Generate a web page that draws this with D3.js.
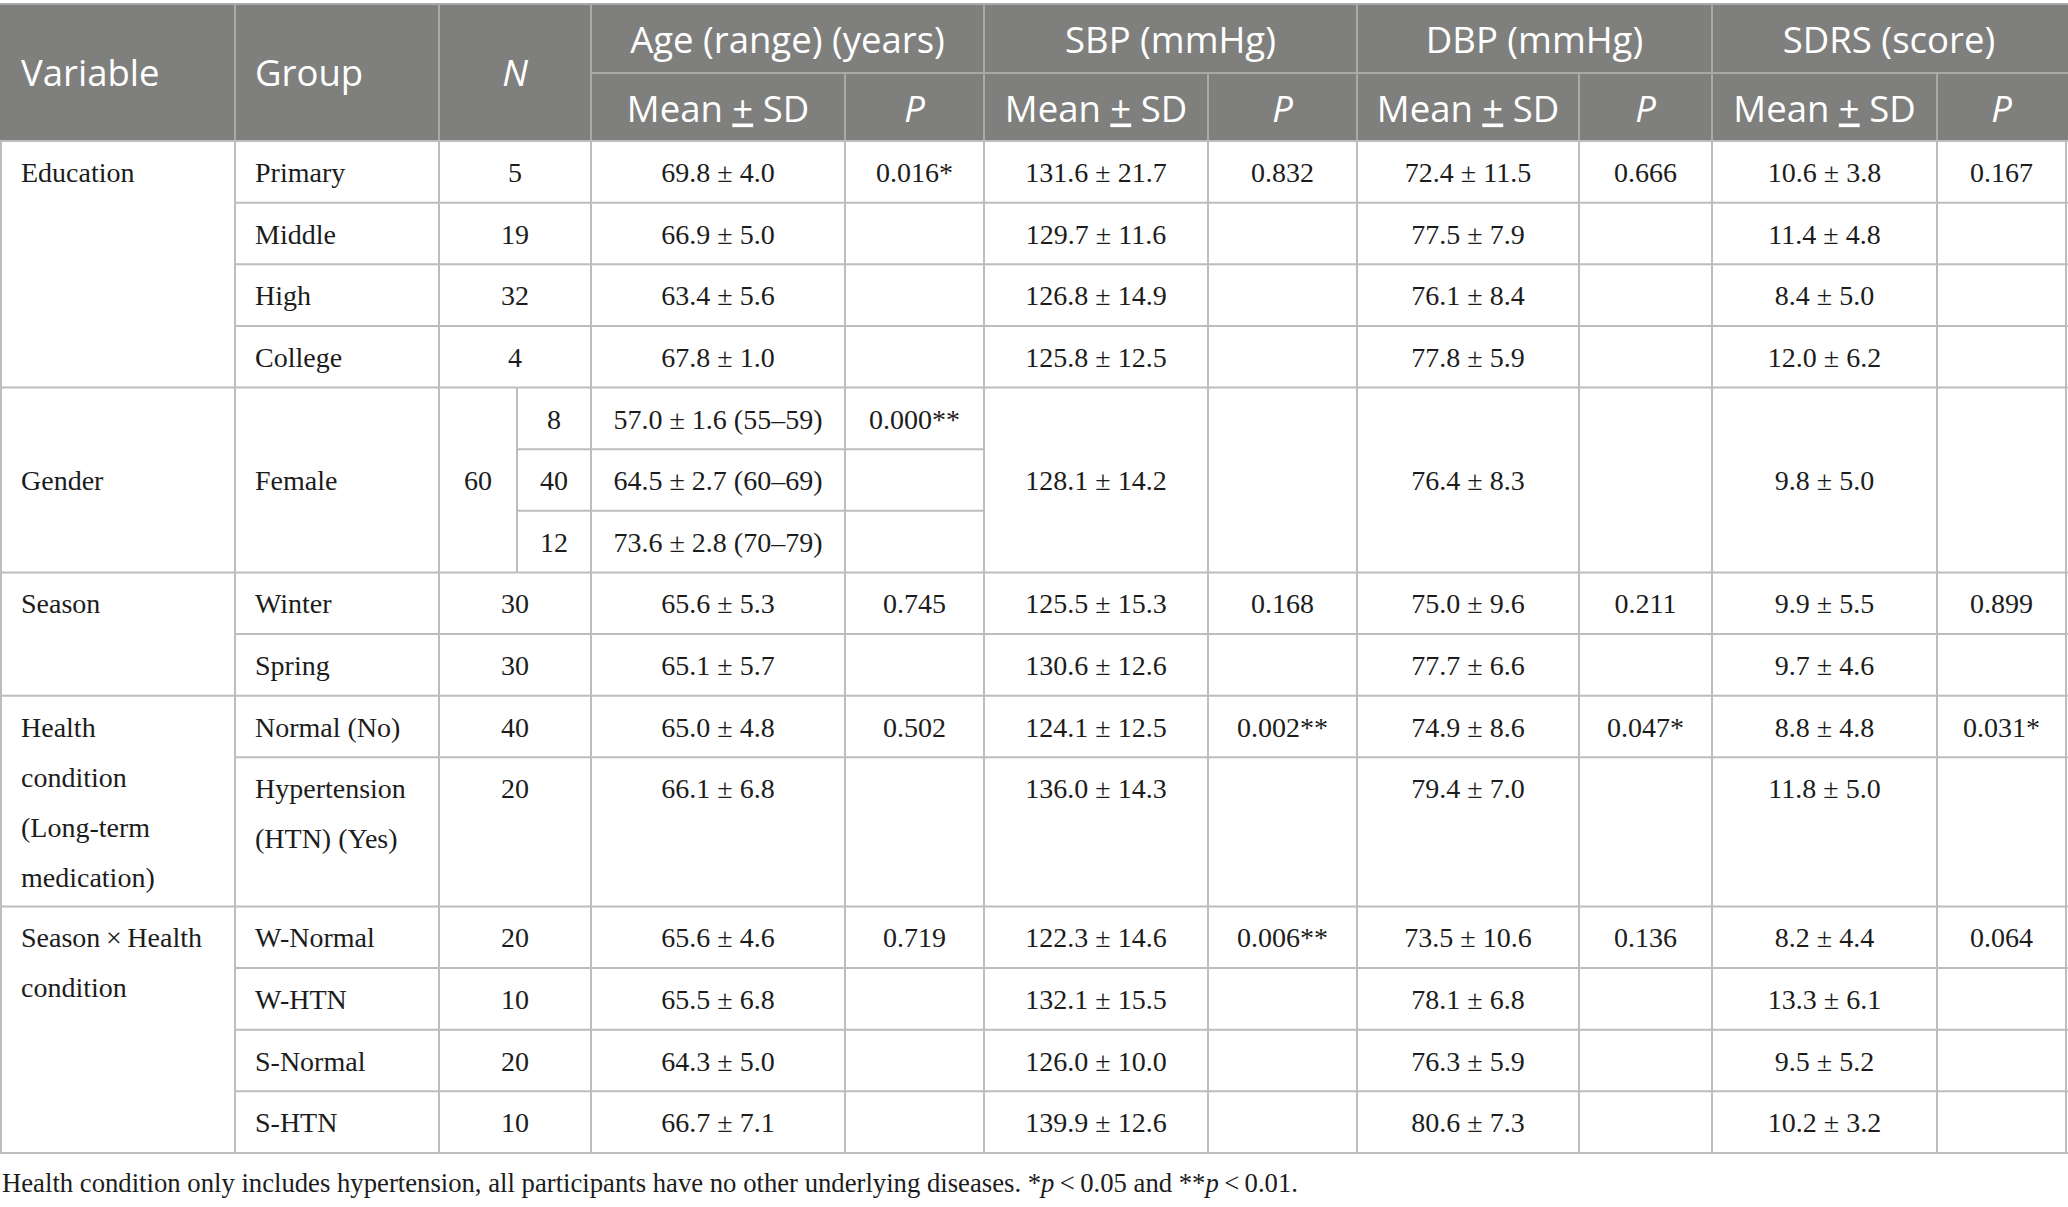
<!DOCTYPE html>
<html><head><meta charset="utf-8">
<script src="https://cdn.jsdelivr.net/npm/d3@7"></script>
<style>body{margin:0;background:#fff}svg{display:block}</style>
</head><body>
<svg id="chart" width="2068" height="1207"></svg>
<script>
// ---------------- DATA ----------------
const headerCols = ["Variable", "Group", "N"];
const headerGroups = ["Age (range) (years)", "SBP (mmHg)", "DBP (mmHg)", "SDRS (score)"];
const subHeaders = ["Mean ± SD", "P"];

const variables = ["Education", "Gender", "Season", "Health\ncondition\n(Long-term\nmedication)", "Season\u2009×\u2009Health\ncondition"];
const sectionSizes = [4, 1, 2, 2, 4]; // number of groups in each variable

const groups = ["Primary", "Middle", "High", "College", "Female", "Winter", "Spring",
  "Normal (No)", "Hypertension\n(HTN) (Yes)", "W-Normal", "W-HTN", "S-Normal", "S-HTN"];
const groupN = ["5", "19", "32", "4", "60", "30", "30", "40", "20", "20", "10", "20", "10"];
const genderAgeN = ["8", "40", "12"]; // sub-groups of Female by age range

// Age: one entry per displayed row (Female split into 3 age ranges)
const ageMeanSD = ["69.8 ± 4.0", "66.9 ± 5.0", "63.4 ± 5.6", "67.8 ± 1.0",
  "57.0 ± 1.6 (55–59)", "64.5 ± 2.7 (60–69)", "73.6 ± 2.8 (70–79)",
  "65.6 ± 5.3", "65.1 ± 5.7", "65.0 ± 4.8", "66.1 ± 6.8",
  "65.6 ± 4.6", "65.5 ± 6.8", "64.3 ± 5.0", "66.7 ± 7.1"];
const ageP = ["0.016*", "0.000**", "0.745", "0.502", "0.719"];

const sbpMeanSD = ["131.6 ± 21.7", "129.7 ± 11.6", "126.8 ± 14.9", "125.8 ± 12.5", "128.1 ± 14.2",
  "125.5 ± 15.3", "130.6 ± 12.6", "124.1 ± 12.5", "136.0 ± 14.3",
  "122.3 ± 14.6", "132.1 ± 15.5", "126.0 ± 10.0", "139.9 ± 12.6"];
const sbpP = ["0.832", "", "0.168", "0.002**", "0.006**"];

const dbpMeanSD = ["72.4 ± 11.5", "77.5 ± 7.9", "76.1 ± 8.4", "77.8 ± 5.9", "76.4 ± 8.3",
  "75.0 ± 9.6", "77.7 ± 6.6", "74.9 ± 8.6", "79.4 ± 7.0",
  "73.5 ± 10.6", "78.1 ± 6.8", "76.3 ± 5.9", "80.6 ± 7.3"];
const dbpP = ["0.666", "", "0.211", "0.047*", "0.136"];

const sdrsMeanSD = ["10.6 ± 3.8", "11.4 ± 4.8", "8.4 ± 5.0", "12.0 ± 6.2", "9.8 ± 5.0",
  "9.9 ± 5.5", "9.7 ± 4.6", "8.8 ± 4.8", "11.8 ± 5.0",
  "8.2 ± 4.4", "13.3 ± 6.1", "9.5 ± 5.2", "10.2 ± 3.2"];
const sdrsP = ["0.167", "", "0.899", "0.031*", "0.064"];

const footnoteParts = [
  ["Health condition only includes hypertension, all participants have no other underlying diseases. *", false],
  ["p", true], ["\u2009<\u20090.05 and **", false], ["p", true], ["\u2009<\u20090.01.", false]
];

// ---------------- LAYOUT ----------------
const svg = d3.select("#chart");
const colKeys = ["var", "grp", "n", "ageM", "ageP", "sbpM", "sbpP", "dbpM", "dbpP", "sdrsM", "sdrsP"];
const colEdges = [1, 235, 439, 591, 845, 984, 1208, 1357, 1579, 1712, 1937, 2066];
const nSplit = 517;
const xL = d3.scaleOrdinal().domain(colKeys).range(colEdges.slice(0, -1));
const xR = d3.scaleOrdinal().domain(colKeys).range(colEdges.slice(1));
const xC = k => (xL(k) + xR(k)) / 2;

const headTop = 4, headMid = 73, headBot = 141, bodyBot = 1153;
const lineGap = 50, firstLine = 41;
const sansFont = "'Open Sans', 'Noto Sans', sans-serif";
const serifFont = "'Liberation Serif', 'DejaVu Serif', serif";
const bodyColor = "#1c1c1c";
const gridColor = "#bdbdbd";
const headBg = "#7f807e";
const headLine = "#a9aaa8";

const groupSection = [];
sectionSizes.forEach((n, s) => { for (let i = 0; i < n; i++) groupSection.push(s); });
const groupSubRows = groups.map((g, i) => groupSection[i] === 1 ? genderAgeN.length : 1);
const groupUnits = groups.map((g, i) => i === 8 ? 2.42 : groupSubRows[i]);
const groupStart = [];
let acc = 0;
groupUnits.forEach(u => { groupStart.push(acc); acc += u; });
const totalUnits = acc;
const y = d3.scaleLinear().domain([0, totalUnits]).range([headBot, bodyBot]);

const sectionFirst = [];
{ let c = 0; sectionSizes.forEach(n => { sectionFirst.push(c); c += n; }); }

// ---------------- HEADER ----------------
const head = svg.append("g");
head.append("rect").attr("x", 0).attr("y", headTop).attr("width", 2068).attr("height", headBot - headTop).attr("fill", headBg);
head.append("line").attr("x1", 0).attr("x2", 2068).attr("y1", headTop).attr("y2", headTop).attr("stroke", headLine).attr("stroke-width", 2);

const groupColPairs = [["ageM", "ageP"], ["sbpM", "sbpP"], ["dbpM", "dbpP"], ["sdrsM", "sdrsP"]];
["grp", "n", "ageM", "sbpM", "dbpM", "sdrsM"].forEach(k => {
  head.append("line").attr("x1", xL(k)).attr("x2", xL(k)).attr("y1", headTop).attr("y2", headBot).attr("stroke", headLine).attr("stroke-width", 2);
});
groupColPairs.forEach(p => {
  head.append("line").attr("x1", xL(p[1])).attr("x2", xL(p[1])).attr("y1", headMid).attr("y2", headBot).attr("stroke", headLine).attr("stroke-width", 2);
});
head.append("line").attr("x1", xL("ageM")).attr("x2", 2068).attr("y1", headMid).attr("y2", headMid).attr("stroke", headLine).attr("stroke-width", 2);

const hText = (x, yy, anchor) => head.append("text").attr("x", x).attr("y", yy).attr("text-anchor", anchor)
  .attr("fill", "#fff").attr("font-family", sansFont).attr("font-size", 36.5);
const headCenter = (headTop + headBot) / 2 + 13.5;
hText(21, headCenter, "start").text(headerCols[0]);
hText(xL("grp") + 20, headCenter, "start").text(headerCols[1]);
hText(xC("n"), headCenter, "middle").attr("font-style", "italic").text(headerCols[2]);
headerGroups.forEach((t, i) => {
  const p = groupColPairs[i];
  hText((xL(p[0]) + xR(p[1])) / 2, (headTop + headMid) / 2 + 14.5, "middle").text(t);
  const ty = (headMid + headBot) / 2 + 14.5;
  const t1 = hText(xC(p[0]), ty, "middle");
  const parts = subHeaders[0].split("±");
  t1.append("tspan").text(parts[0]);
  t1.append("tspan").attr("text-decoration", "underline").style("text-decoration", "underline").text("+");
  t1.append("tspan").text(parts[1]);
  hText(xC(p[1]), ty, "middle").attr("font-style", "italic").text(subHeaders[1]);
});

// ---------------- BODY GRID ----------------
const grid = svg.append("g").attr("stroke", gridColor).attr("stroke-width", 2);
colEdges.forEach(x => grid.append("line").attr("x1", x).attr("x2", x).attr("y1", headBot).attr("y2", bodyBot));
grid.append("line").attr("x1", 0).attr("x2", 2068).attr("y1", headBot).attr("y2", headBot);
groups.forEach((g, i) => {
  const yb = y(groupStart[i] + groupUnits[i]);
  const isSectionEnd = i === groups.length - 1 || groupSection[i + 1] !== groupSection[i];
  grid.append("line").attr("x1", isSectionEnd ? 0 : xL("grp")).attr("x2", 2068).attr("y1", yb).attr("y2", yb);
  if (groupSubRows[i] > 1) {
    grid.append("line").attr("x1", nSplit).attr("x2", nSplit).attr("y1", y(groupStart[i])).attr("y2", yb);
    for (let r = 1; r < groupSubRows[i]; r++) {
      const ys = y(groupStart[i] + r);
      grid.append("line").attr("x1", nSplit).attr("x2", xR("ageP")).attr("y1", ys).attr("y2", ys);
    }
  }
});

// ---------------- BODY TEXT ----------------
const body = svg.append("g").attr("font-family", serifFont).attr("font-size", 28).attr("fill", bodyColor);
function cellText(str, x, baseline, anchor) {
  const lines = String(str).split("\n");
  const t = body.append("text").attr("x", x).attr("y", baseline).attr("text-anchor", anchor);
  lines.forEach((l, i) => t.append("tspan").attr("x", x).attr("dy", i === 0 ? 0 : lineGap).text(l));
  return t;
}
const topBase = (y0) => y0 + firstLine;
const midBase = (y0, y1, n) => (y0 + y1) / 2 + 10 - (n - 1) * lineGap / 2;

variables.forEach((v, s) => {
  const g0 = sectionFirst[s], g1 = g0 + sectionSizes[s] - 1;
  const y0 = y(groupStart[g0]), y1 = y(groupStart[g1] + groupUnits[g1]);
  const n = v.split("\n").length;
  const b = sectionSizes[s] === 1 ? midBase(y0, y1, n) : topBase(y0);
  cellText(v, 21, b, "start");
  const pb = topBase(y0);
  if (ageP[s]) cellText(ageP[s], xC("ageP"), pb, "middle");
  if (sbpP[s]) cellText(sbpP[s], xC("sbpP"), pb, "middle");
  if (dbpP[s]) cellText(dbpP[s], xC("dbpP"), pb, "middle");
  if (sdrsP[s]) cellText(sdrsP[s], xC("sdrsP"), pb, "middle");
});

let ageRow = 0;
groups.forEach((g, i) => {
  const y0 = y(groupStart[i]), y1 = y(groupStart[i] + groupUnits[i]);
  const multi = groupSubRows[i] > 1;
  const b = multi ? midBase(y0, y1, 1) : topBase(y0);
  cellText(g, xL("grp") + 20, multi ? midBase(y0, y1, g.split("\n").length) : topBase(y0), "start");
  if (multi) {
    cellText(groupN[i], (xL("n") + nSplit) / 2, b, "middle");
    for (let r = 0; r < groupSubRows[i]; r++) {
      const rb = y(groupStart[i] + r) + firstLine;
      cellText(genderAgeN[r], (nSplit + xR("n")) / 2, rb, "middle");
      cellText(ageMeanSD[ageRow++], xC("ageM"), rb, "middle");
    }
  } else {
    cellText(groupN[i], xC("n"), b, "middle");
    cellText(ageMeanSD[ageRow++], xC("ageM"), b, "middle");
  }
  cellText(sbpMeanSD[i], xC("sbpM"), b, "middle");
  cellText(dbpMeanSD[i], xC("dbpM"), b, "middle");
  cellText(sdrsMeanSD[i], xC("sdrsM"), b, "middle");
});

// ---------------- FOOTNOTE ----------------
const fn = svg.append("text").attr("x", 2).attr("y", 1192).attr("font-family", serifFont)
  .attr("font-size", 26.7).attr("fill", bodyColor);
footnoteParts.forEach(([t, it]) => fn.append("tspan").attr("font-style", it ? "italic" : "normal").text(t));
</script>
</body></html>
